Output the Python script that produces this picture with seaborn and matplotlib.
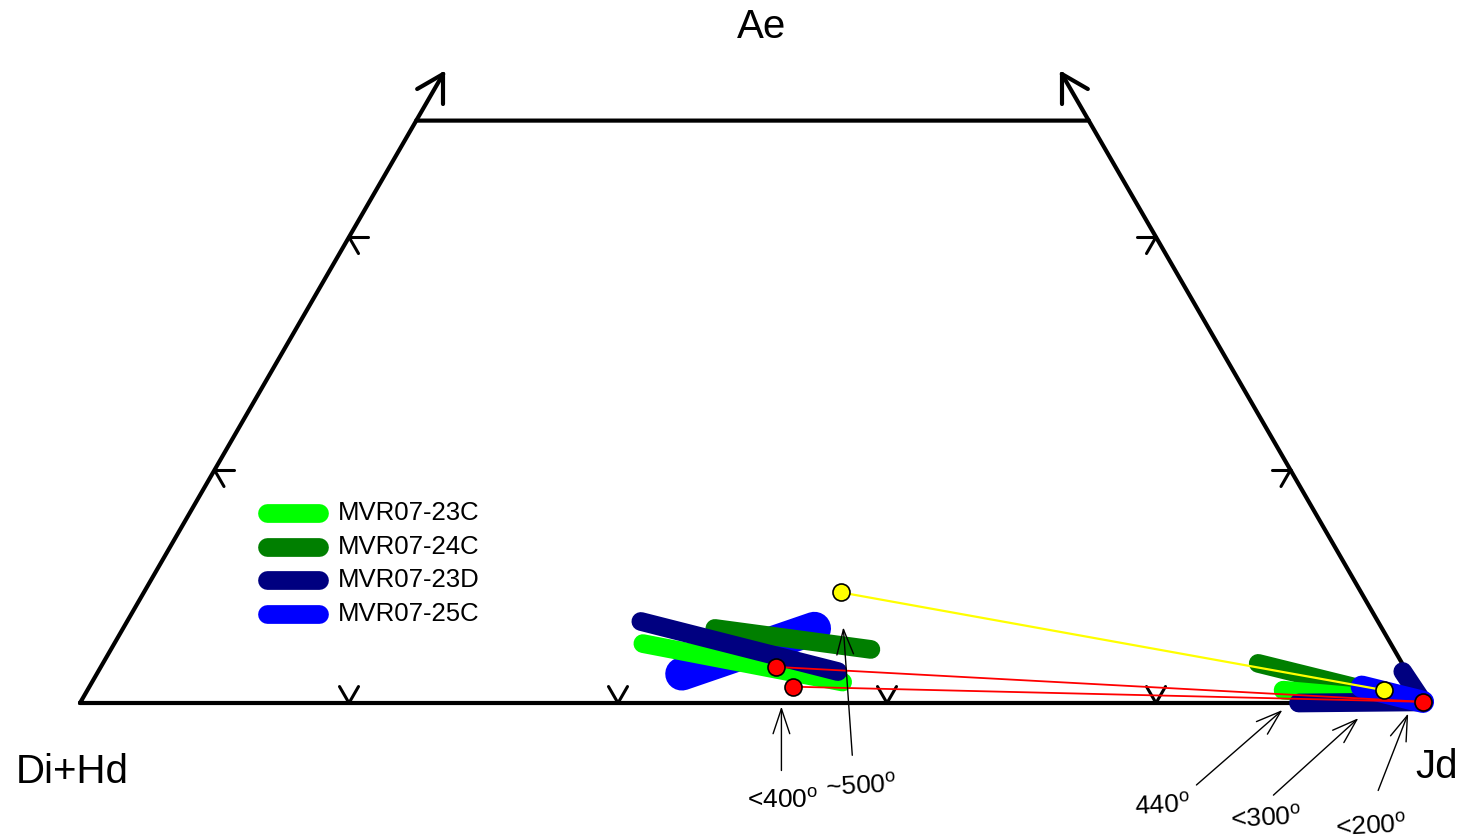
import numpy as np
import pandas as pd
import matplotlib
matplotlib.use("Agg")
import matplotlib.pyplot as plt
import seaborn as sns

# ---- pyroxene compositions (Jd %, Ae %) ----
samples = ["MVR07-23C", "MVR07-24C", "MVR07-23D", "MVR07-25C"]

# compositional trends, one list entry per grain cluster
jd_23C = [(39.3, 55.8), (88.9, 97.2)]
ae_23C = [(5.1, 1.8), (1.1, 0.3)]
jd_24C = [(44.0, 56.5), (85.9, 96.7)]
ae_24C = [(6.4, 4.6), (3.4, 0.7)]
jd_23D = [(38.2, 55.0), (90.6, 99.8, 97.0)]
ae_23D = [(7.0, 2.7), (0.0, 0.1, 2.7)]
jd_25C = [(43.5, 51.4), (94.6, 99.8)]
ae_25C = [(2.5, 6.4), (1.4, 0.1)]

# coexisting pairs
red_jd = [50.2, 52.3, 99.8]
red_ae = [3.1, 1.4, 0.1]
yellow_jd = [51.8, 96.4]
yellow_ae = [9.5, 1.1]

# temperature labels and the compositions they point at
temp_labels = ["<400", "~500", "440", "<300", "<200"]
temp_jd = [52.3, 53.5, 89.7, 95.7, 99.2]
temp_ae = [-0.3, 6.5, -0.6, -1.3, -0.9]

# ---- styling ----
colors = {"MVR07-23C": "#00FF00", "MVR07-24C": "#007F00",
          "MVR07-23D": "#000080", "MVR07-25C": "#0000FF"}
widths = {"MVR07-23C": [13.5, 13.5], "MVR07-24C": [13.5, 13.5],
          "MVR07-23D": [13.5, 13.5], "MVR07-25C": [24, 16]}
zorders = {"MVR07-23C": [4, 4], "MVR07-24C": [3, 3],
           "MVR07-23D": [5, 5], "MVR07-25C": [2, 6]}
trend_jd = {"MVR07-23C": jd_23C, "MVR07-24C": jd_24C,
            "MVR07-23D": jd_23D, "MVR07-25C": jd_25C}
trend_ae = {"MVR07-23C": ae_23C, "MVR07-24C": ae_24C,
            "MVR07-23D": ae_23D, "MVR07-25C": ae_25C}

sns.set_theme(style="white")
plt.rcParams["font.family"] = ["Liberation Sans", "DejaVu Sans"]
plt.rcParams["text.color"] = "black"
plt.rcParams["mathtext.fontset"] = "custom"
plt.rcParams["mathtext.rm"] = "Liberation Sans"

SQ3 = np.sqrt(3) / 2
PX = 1 / 1345.0  # one figure pixel in axis units (triangle side = 1345 px)


def tern(jd, ae):
    jd = np.asarray(jd, float) / 100
    ae = np.asarray(ae, float) / 100
    return jd + ae / 2, ae * SQ3


fig = plt.figure(figsize=(14.7, 8.39), dpi=100)
ax = fig.add_axes([0, 0, 1, 1])

# ---- frame: Quad-Jd-Ae triangle truncated at Ae = 50 ----
fx, fy = tern([0, 100, 50, 0, 0], [0, 0, 50, 50, 0])
ax.plot(fx, fy, color="black", lw=3, solid_capstyle="round",
        solid_joinstyle="miter", zorder=1)

# sides continue past the top edge as arrows
for (j0, a0), (j1, a1) in [((0, 50), (0, 54)), ((50, 50), (46, 54))]:
    x0, y0 = tern(j0, a0)
    x1, y1 = tern(j1, a1)
    ax.plot([x0, x1], [y0, y1], color="black", lw=3, solid_capstyle="round", zorder=1)
    d = np.array([x0 - x1, y0 - y1])
    d /= np.hypot(*d)
    for ang in (np.radians(30), -np.radians(30)):
        r = np.array([[np.cos(ang), -np.sin(ang)], [np.sin(ang), np.cos(ang)]]) @ d
        ax.plot([x1, x1 + r[0] * 30 * PX], [y1, y1 + r[1] * 30 * PX],
                color="black", lw=3, solid_capstyle="round", zorder=1)


# chevron ticks at 20 % steps
def chevron(jd, ae, dirs):
    x, y = tern(jd, ae)
    for ddeg in dirs:
        t = np.radians(ddeg)
        ax.plot([x, x + np.cos(t) * 19 * PX], [y, y + np.sin(t) * 19 * PX],
                color="black", lw=2.2, solid_capstyle="round", zorder=1)


for j in (20, 40, 60, 80):
    chevron(j, 0, (60, 120))
for a in (20, 40):
    chevron(0, a, (0, -60))
    chevron(100 - a, a, (180, -120))

# ---- compositional trends ----
for s in samples:
    for k, (js, as_) in enumerate(zip(trend_jd[s], trend_ae[s])):
        x, y = tern(js, as_)
        sns.lineplot(data=pd.DataFrame({"x": x, "y": y}), x="x", y="y", sort=False,
                     estimator=None, color=colors[s], linewidth=widths[s][k],
                     solid_capstyle="round", solid_joinstyle="round",
                     zorder=zorders[s][k], ax=ax, legend=False)

# ---- tie lines and coexisting compositions ----
rx, ry = tern(red_jd, red_ae)
for i in range(2):
    ax.plot([rx[i], rx[2]], [ry[i], ry[2]], color="red", lw=1.3, zorder=8)
yx, yy = tern(yellow_jd, yellow_ae)
ax.plot(yx, yy, color="#FFFF00", lw=1.6, zorder=8)

sns.scatterplot(x=rx, y=ry, color="red", s=150, edgecolor="black", linewidth=1.2,
                zorder=9, ax=ax, legend=False)
sns.scatterplot(x=yx, y=yy, color="#FFFF00", s=150, edgecolor="black", linewidth=1.2,
                zorder=9, ax=ax, legend=False)

# ---- temperature annotations ----
tails = [(0, 64), (9, 128), (-86, 75), (-85, 77), (-30, 77)]
texts = [(1, 94), (18, 159), (-120, 96), (-92, 100), (-37, 113)]
rots = [0, 3, 3, 3, 3]
tx, ty = tern(temp_jd, temp_ae)
for i, lab in enumerate(temp_labels):
    ax.annotate("", xy=(tx[i], ty[i]),
                xytext=(tx[i] + tails[i][0] * PX, ty[i] - tails[i][1] * PX),
                arrowprops=dict(arrowstyle="->,head_length=0.9,head_width=0.3",
                                color="black", lw=1.0, mutation_scale=20,
                                shrinkA=0, shrinkB=0), zorder=10)
    ax.text(tx[i] + texts[i][0] * PX, ty[i] - texts[i][1] * PX,
            lab + r"$^{\mathrm{o}}$", fontsize=19, ha="center", va="center",
            rotation=rots[i], color="black", zorder=10)

# ---- apex labels ----
ax.text(762 / 1470, 1 - 27 / 839, "Ae", fontsize=29, ha="center", va="center",
        transform=ax.transAxes)
ax.text(72 / 1470, 1 - 772 / 839, "Di+Hd", fontsize=29, ha="center", va="center",
        transform=ax.transAxes)
ax.text(1437 / 1470, 1 - 767 / 839, "Jd", fontsize=29, ha="center", va="center",
        transform=ax.transAxes)

# ---- legend ----
for i, s in enumerate(samples):
    yl = 1 - (513 + 33.7 * i) / 839
    ax.plot([267 / 1470, 319 / 1470], [yl, yl], color=colors[s], lw=13.5,
            solid_capstyle="round", transform=ax.transAxes, zorder=5)
    ax.text(338 / 1470, yl, s, fontsize=18.5, ha="left", va="center",
            transform=ax.transAxes)

ax.set_xlim(-80 * PX, 1390 * PX)
ax.set_ylim(-136 * PX, 703 * PX)
ax.axis("off")
fig.savefig("out.png", dpi=100, facecolor="white")
